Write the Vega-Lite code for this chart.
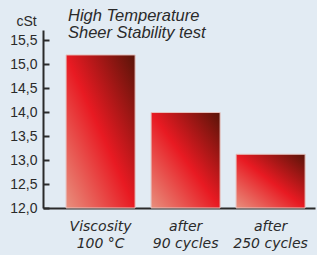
{
  "$schema": "https://vega.github.io/schema/vega-lite/v6.json",
  "width": 272,
  "height": 178,
  "autosize": {"type": "none"},
  "padding": {"left": 43, "top": 30, "right": 2, "bottom": 47},
  "background": "#e2ebf3",
  "title": {
    "text": ["High Temperature", "Sheer Stability test"],
    "anchor": "start",
    "frame": "group",
    "orient": "top",
    "baseline": "top",
    "offset": 0,
    "dx": 25,
    "dy": 27,
    "font": "Liberation Sans",
    "fontStyle": "italic",
    "fontWeight": "normal",
    "fontSize": 16.5,
    "lineHeight": 17,
    "color": "#2a2a2a"
  },
  "data": {
    "values": [
      {"stage": "Viscosity|100 °C", "cst": 15.19},
      {"stage": "after|90 cycles", "cst": 13.99},
      {"stage": "after|250 cycles", "cst": 13.12}
    ]
  },
  "mark": {
    "type": "bar",
    "stroke": "#e6c2be",
    "strokeWidth": 1,
    "fill": {
      "gradient": "linear",
      "x1": 1, "y1": 0, "x2": 0, "y2": 1,
      "stops": [
        {"offset": 0, "color": "#581408"},
        {"offset": 0.5, "color": "#e81a22"},
        {"offset": 1, "color": "#e8907e"}
      ]
    }
  },
  "encoding": {
    "x": {
      "field": "stage",
      "type": "nominal",
      "sort": null,
      "scale": {"paddingInner": 0.188, "paddingOuter": 0.194, "align": 0.7},
      "axis": {
        "title": null,
        "labelAngle": 0,
        "ticks": false,
        "domainColor": "#2a2a2a",
        "domainWidth": 2,
        "labelExpr": "split(datum.label, '|')",
        "labelFont": "DejaVu Sans",
        "labelFontStyle": "italic",
        "labelFontSize": 14,
        "labelLineHeight": 17,
        "labelColor": "#2a2a2a",
        "labelPadding": 11,
        "labelBaseline": "top",
        "labelOverlap": false
      }
    },
    "y": {
      "field": "cst",
      "type": "quantitative",
      "scale": {"domain": [12, 15.71], "nice": false, "zero": false},
      "axis": {
        "title": "cSt",
        "titleAngle": 0,
        "titleX": -17,
        "titleY": -9,
        "titleAlign": "center",
        "titleBaseline": "middle",
        "titleFont": "Liberation Sans",
        "titleFontWeight": "normal",
        "titleFontSize": 14,
        "titleColor": "#2a2a2a",
        "values": [12, 12.5, 13, 13.5, 14, 14.5, 15, 15.5],
        "labelExpr": "replace(format(datum.value, '.1f'), '.', ',')",
        "labelFont": "Liberation Sans",
        "labelFontSize": 14,
        "labelColor": "#2a2a2a",
        "tickSize": -6,
        "tickWidth": 2,
        "tickColor": "#2a2a2a",
        "domainColor": "#2a2a2a",
        "domainWidth": 2,
        "labelPadding": 12,
        "grid": false
      }
    },
    "y2": {"datum": 12}
  },
  "config": {"view": {"stroke": null}}
}
